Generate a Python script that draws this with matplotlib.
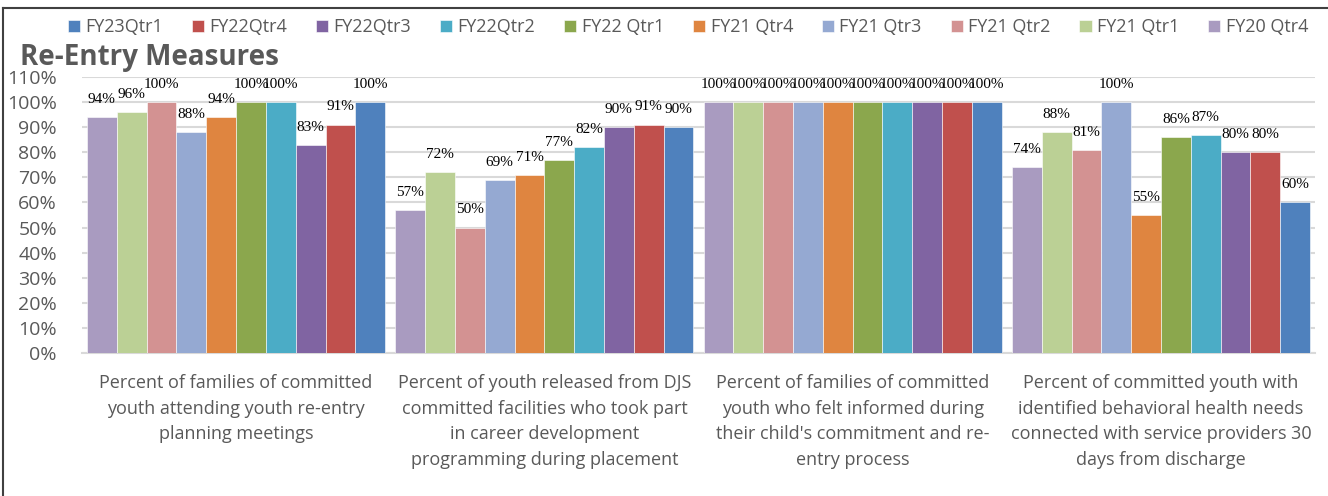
import matplotlib
matplotlib.use('Agg')
import matplotlib.pyplot as plt
import numpy as np
from matplotlib.lines import Line2D

# series in plotting order (left to right inside each group)
series = ['FY20 Qtr4', 'FY21 Qtr1', 'FY21 Qtr2', 'FY21 Qtr3', 'FY21 Qtr4',
          'FY22 Qtr1', 'FY22Qtr2', 'FY22Qtr3', 'FY22Qtr4', 'FY23Qtr1']
colors = ['#A99BC0', '#BBD095', '#D39292', '#95A9D2', '#DF8540',
          '#8BA74D', '#4BACC6', '#8064A2', '#C0504D', '#4F81BD']

categories = [
    'Percent of families of committed\nyouth attending youth re-entry\nplanning meetings',
    'Percent of youth released from DJS\ncommitted facilities who took part\nin career development\nprogramming during placement',
    "Percent of families of committed\nyouth who felt informed during\ntheir child's commitment and re-\nentry process",
    'Percent of committed youth with\nidentified behavioral health needs\nconnected with service providers 30\ndays from discharge',
]

# values per series, one number per category (percent)
fy20_q4 = [94, 57, 100, 74]
fy21_q1 = [96, 72, 100, 88]
fy21_q2 = [100, 50, 100, 81]
fy21_q3 = [88, 69, 100, 100]
fy21_q4 = [94, 71, 100, 55]
fy22_q1 = [100, 77, 100, 86]
fy22_q2 = [100, 82, 100, 87]
fy22_q3 = [83, 90, 100, 80]
fy22_q4 = [91, 91, 100, 80]
fy23_q1 = [100, 90, 100, 60]
values = [fy20_q4, fy21_q1, fy21_q2, fy21_q3, fy21_q4,
          fy22_q1, fy22_q2, fy22_q3, fy22_q4, fy23_q1]

plt.rcParams['font.family'] = ['Open Sans', 'DejaVu Sans']
grey = '#595959'

fig = plt.figure(figsize=(13.28, 4.96), dpi=100)
ax = fig.add_axes([0.0617, 0.288, 0.9286, 0.557])

x = np.arange(len(categories))
n = len(series)
w = 0.967 / n
bars_all = []
for i, (name, vals, c) in enumerate(zip(series, values, colors)):
    pos = x - 0.967 / 2 + w * (i + 0.5)
    bars = ax.bar(pos, np.array(vals) / 100, w, color=c, edgecolor='white',
                  linewidth=0.4, label=name, zorder=3)
    bars_all.append(bars)
    for b, v in zip(bars, vals):
        ax.annotate(f'{v}%', (b.get_x() + b.get_width() / 2, b.get_height()),
                    xytext=(0, 8), textcoords='offset points', ha='center',
                    va='bottom', fontsize=11, family='Liberation Serif',
                    color='black', zorder=4)

ax.set_xlim(-0.5, 3.5)
ax.set_ylim(0, 1.1)
ax.set_yticks(np.arange(0, 1.11, 0.1))
ax.set_yticklabels([f'{int(round(t * 100))}%' for t in np.arange(0, 1.11, 0.1)])
ax.set_xticks(x)
ax.set_xticklabels(categories, linespacing=1.55)
ax.tick_params(axis='both', length=0, colors=grey)
ax.tick_params(axis='x', pad=15, labelsize=13)
ax.tick_params(axis='y', pad=18, labelsize=14)
ax.grid(axis='y', color='#D9D9D9', linewidth=1.5, zorder=0)
for s in ['top', 'right', 'left']:
    ax.spines[s].set_visible(False)
ax.spines['bottom'].set_color('#D9D9D9')
ax.spines['bottom'].set_linewidth(1.5)

handles = [bars_all[i] for i in range(n - 1, -1, -1)]
labels = [series[i] for i in range(n - 1, -1, -1)]
leg = fig.legend(handles, labels, loc='center', bbox_to_anchor=(0.518, 0.945),
                 ncol=n, frameon=False, fontsize=13, handlelength=0.67,
                 handleheight=0.67, handletextpad=0.3, columnspacing=1.6)
for t in leg.get_texts():
    t.set_color(grey)

fig.text(0.015, 0.885, 'Re-Entry Measures', fontsize=20, fontweight='bold',
         color=grey, va='center', ha='left')

# outer frame (left and top edges visible)
fig.add_artist(Line2D([0.0025, 0.0025], [0, 0.984], transform=fig.transFigure,
                      color='#404040', linewidth=1.5))
fig.add_artist(Line2D([0.0025, 1], [0.984, 0.984], transform=fig.transFigure,
                      color='#404040', linewidth=1.5))

fig.savefig('out.png', dpi=100)
